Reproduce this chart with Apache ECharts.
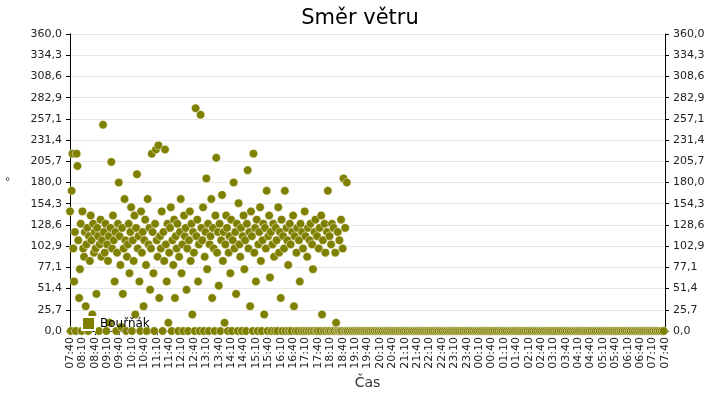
<!DOCTYPE html>
<html>
<head>
    <meta charset="utf-8">
    <script src="https://cdn.jsdelivr.net/npm/echarts@6/dist/echarts.min.js"></script>
</head>
<body style="margin:0">
    <div id="chart" style="width:720px;height:400px;"></div>
    <script type="text/javascript">
        // minutes since 07:40, 2-min step while the wind blows (07:40 - 18:50)
        var activeStep = 2;
        var activeDir = [
            145, 0, 170, 215, 100, 60, 120, 0, 215, 200,
            110, 40, 75, 130, 0, 145, 100, 90, 120, 30,
            105, 125, 0, 115, 85, 140, 110, 20, 130, 95,
            120, 100, 45, 125, 115, 0, 105, 135, 90, 110,
            250, 120, 95, 130, 0, 105, 85, 115, 10, 125,
            205, 100, 140, 110, 60, 120, 0, 95, 130, 180,
            115, 80, 5, 125, 45, 100, 160, 110, 0, 90,
            105, 130, 70, 120, 150, 0, 110, 85, 140, 20,
            125, 190, 100, 115, 60, 0, 145, 95, 120, 30,
            110, 135, 80, 0, 160, 105, 125, 50, 100, 215,
            120, 70, 0, 130, 220, 110, 90, 225, 40, 115,
            100, 145, 0, 120, 85, 220, 105, 60, 130, 10,
            95, 125, 150, 0, 110, 80, 135, 40, 115, 100,
            130, 0, 90, 120, 160, 70, 105, 0, 140, 115,
            125, 50, 100, 0, 110, 145, 85, 130, 20, 120,
            95, 0, 270, 115, 135, 60, 105, 0, 262, 125,
            110, 150, 0, 90, 120, 185, 75, 130, 0, 105,
            115, 160, 40, 125, 100, 0, 140, 210, 95, 120,
            55, 130, 0, 110, 165, 85, 120, 10, 105, 140,
            125, 0, 95, 115, 70, 135, 0, 110, 180, 100,
            120, 45, 130, 0, 155, 105, 90, 125, 0, 115,
            140, 75, 110, 0, 130, 195, 100, 120, 30, 145,
            115, 0, 215, 95, 125, 60, 135, 0, 105, 120,
            150, 85, 0, 110, 130, 20, 125, 100, 170, 0,
            115, 140, 65, 120, 0, 105, 130, 90, 0, 125,
            110, 0, 150, 95, 120, 40, 135, 0, 115, 100,
            170, 0, 125, 110, 80, 0, 130, 105, 0, 120,
            140, 30, 115, 0, 95, 125, 0, 110, 60, 130,
            0, 120, 100, 0, 145, 115, 0, 90, 125, 0,
            110, 130, 0, 105, 75, 0, 120, 135, 0, 115,
            0, 100, 125, 0, 140, 20, 110, 0, 130, 95,
            0, 120, 170, 0, 115, 0, 105, 130, 0, 125,
            0, 95, 10, 0, 120, 0, 110, 0, 135, 0,
            100, 185, 0, 125, 0, 180
        ];
        // 5-min step from 18:52 on: calm, direction 0
        var calmStart = 672;
        var calmStep = 5;
        var calmDir = [
            0,0,0,0,0,0,0,0,0,0, 0,0,0,0,0,0,0,0,0,0,
            0,0,0,0,0,0,0,0,0,0, 0,0,0,0,0,0,0,0,0,0,
            0,0,0,0,0,0,0,0,0,0, 0,0,0,0,0,0,0,0,0,0,
            0,0,0,0,0,0,0,0,0,0, 0,0,0,0,0,0,0,0,0,0,
            0,0,0,0,0,0,0,0,0,0, 0,0,0,0,0,0,0,0,0,0,
            0,0,0,0,0,0,0,0,0,0, 0,0,0,0,0,0,0,0,0,0,
            0,0,0,0,0,0,0,0,0,0, 0,0,0,0,0,0,0,0,0,0,
            0,0,0,0,0,0,0,0,0,0, 0,0,0,0
        ];
        var startMinute = 7 * 60 + 40;
        var yTicks = 14, yMax = 360;

        var points = [];
        activeDir.forEach(function (v, i) { points.push([i * activeStep, v]); });
        calmDir.forEach(function (v, i) { points.push([calmStart + i * calmStep, v]); });

        function timeLabel(m) {
            var t = (startMinute + m) % 1440;
            var h = Math.floor(t / 60), mm = t % 60;
            return (h < 10 ? '0' : '') + h + ':' + (mm < 10 ? '0' : '') + mm;
        }
        function degLabel(v) { return v.toFixed(1).replace('.', ','); }

        var yAxisBase = {
            type: 'value', min: 0, max: yMax, interval: yMax / yTicks,
            axisLine: { show: true, lineStyle: { color: '#000' } },
            axisTick: { show: true, length: 4, lineStyle: { color: '#000' } },
            axisLabel: { formatter: degLabel, color: '#222', fontSize: 11, fontFamily: 'DejaVu Sans' },
            splitLine: { lineStyle: { color: '#e8e8e8' } }
        };

        var chart = echarts.init(document.getElementById('chart'));
        chart.setOption({
            animation: false,
            backgroundColor: '#fff',
            title: {
                text: 'Směr větru', left: 'center', top: 3,
                textStyle: { fontSize: 21, fontWeight: 'normal', color: '#000', fontFamily: 'DejaVu Sans' }
            },
            legend: {
                data: ['Bouřňák'], left: 76, top: 311, itemWidth: 13, itemHeight: 13, icon: 'rect', itemGap: 4,
                textStyle: { fontSize: 12, color: '#000', fontFamily: 'DejaVu Sans' }
            },
            grid: { left: 70, right: 55, top: 34, bottom: 69 },
            xAxis: {
                type: 'value', min: 0, max: 1440, interval: 30,
                name: 'Čas', nameLocation: 'middle', nameGap: 44,
                nameTextStyle: { fontSize: 14, color: '#333', fontFamily: 'DejaVu Sans' },
                axisLine: { lineStyle: { color: '#000' } },
                axisTick: { length: 4, lineStyle: { color: '#000' } },
                axisLabel: { rotate: 90, formatter: timeLabel, color: '#222', fontSize: 11, fontFamily: 'DejaVu Sans', margin: 6 },
                splitLine: { show: false }
            },
            yAxis: [
                Object.assign({}, yAxisBase, {
                    name: '°', nameLocation: 'middle', nameGap: 60, nameRotate: 0,
                    nameTextStyle: { fontSize: 12, color: '#333' }
                }),
                Object.assign({}, yAxisBase, { position: 'right', splitLine: { show: false } })
            ],
            series: [{
                name: 'Bouřňák', type: 'scatter', data: points, symbolSize: 8.5,
                itemStyle: { color: '#7f7f00', borderColor: '#fff', borderWidth: 0.5, opacity: 1 }
            }]
        });
    </script>
</body>
</html>
